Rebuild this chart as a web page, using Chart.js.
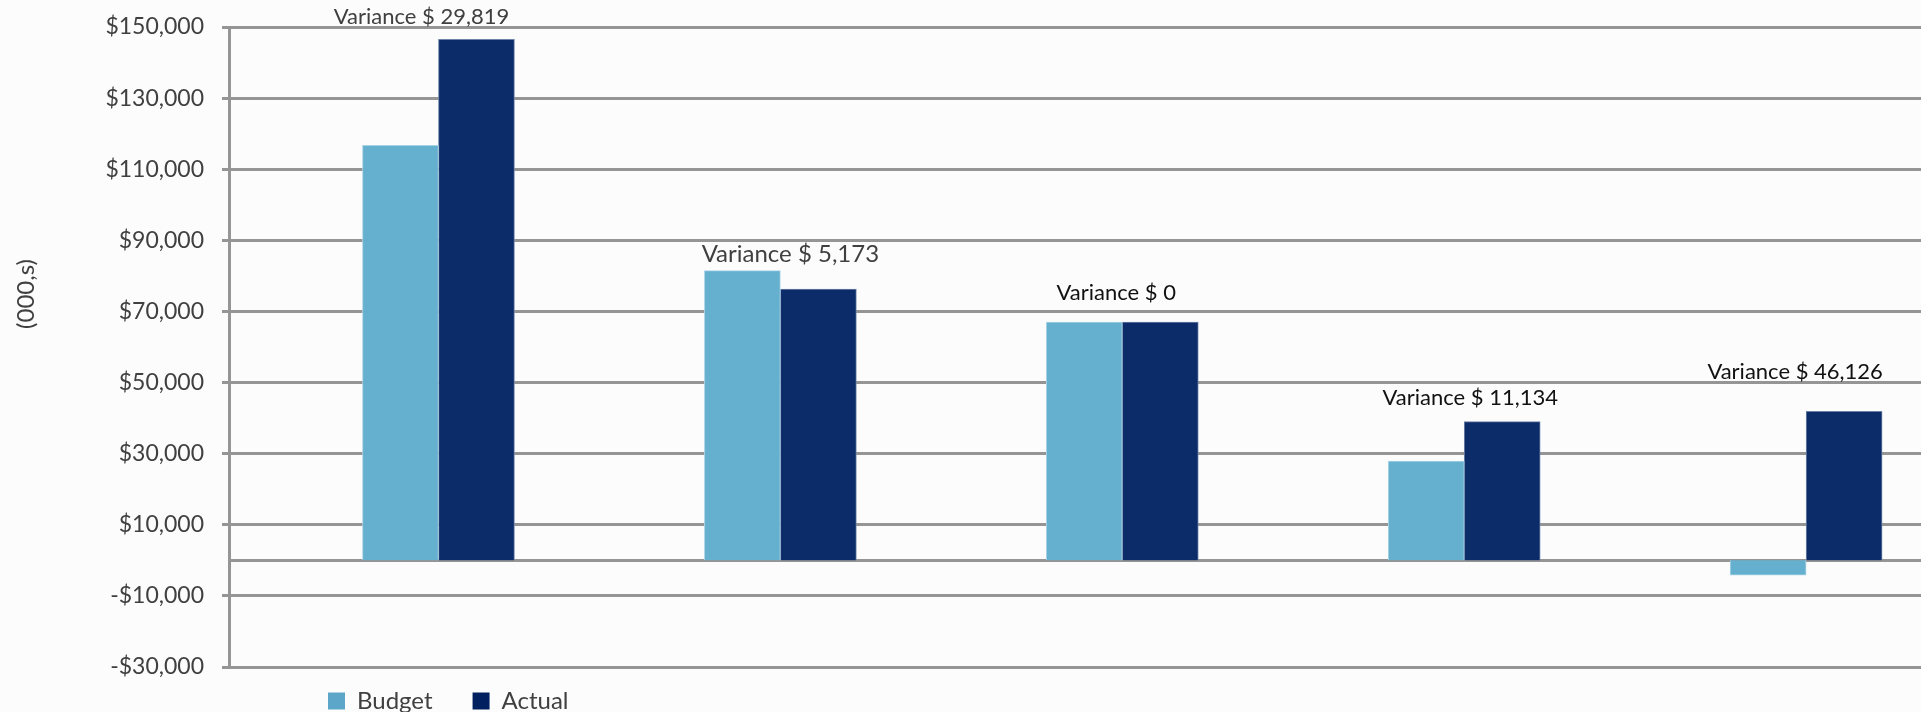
<!DOCTYPE html>
<html>
<head>
<meta charset="utf-8">
<style>html,body{margin:0;padding:0;background:#fcfcfc;overflow:hidden}canvas{display:block}</style>
<script src="https://cdn.jsdelivr.net/npm/chart.js@4"></script>
</head>
<body>
<canvas id="c" width="1921" height="712"></canvas>
<script>
const categories = [0, 1, 2, 3, 4];
const budget = [116700, 81500, 67000, 27900, -4200];
const actual = [146500, 76300, 67000, 39000, 41900];
const varianceLabels = ['Variance $ 29,819', 'Variance $ 5,173', 'Variance $ 0', 'Variance $ 11,134', 'Variance $ 46,126'];
const labelColors = ['#404040', '#404040', '#111111', '#111111', '#111111'];
const labelSizes = [22, 24, 22, 22, 22];
const labelShiftX = [-17, 10, -6, 6, -11];
const labelShiftY = [23, 16, 29, 24, 39];
const FONT = 'Lato, "Open Sans", sans-serif';
const GRID = '#959595';

const annotate = {
  id: 'annotate',
  afterLayout(chart) { chart.legend.left = 288; chart.legend.right = 800; chart.legend.top = 649; },
  afterDatasetsDraw(chart) {
    const { ctx, scales: { x, y } } = chart;
    ctx.save();
    ctx.textAlign = 'center';
    ctx.textBaseline = 'middle';
    varianceLabels.forEach((t, i) => {
      const top = Math.max(budget[i], actual[i]);
      ctx.font = labelSizes[i] + 'px ' + FONT;
      ctx.fillStyle = labelColors[i];
      ctx.fillText(t, x.getPixelForValue(categories[i]) + labelShiftX[i], y.getPixelForValue(top) - labelShiftY[i]);
    });
    ctx.restore();
    ctx.save();
    ctx.font = '24px ' + FONT;
    ctx.fillStyle = '#404040';
    ctx.textAlign = 'center';
    ctx.textBaseline = 'middle';
    ctx.translate(26, 294);
    ctx.rotate(-Math.PI / 2);
    ctx.fillText('(000,s)', 0, 0);
    ctx.restore();
  }
};

new Chart(document.getElementById('c'), {
  type: 'bar',
  data: {
    datasets: [
      { label: 'Budget', data: categories.map((c, i) => ({ x: c, y: budget[i] })), backgroundColor: '#65AFCF', borderColor: '#A9D3E6', borderWidth: 1 },
      { label: 'Actual', data: categories.map((c, i) => ({ x: c, y: actual[i] })), backgroundColor: '#0B2B69', borderColor: '#6E82A8', borderWidth: 1 }
    ]
  },
  options: {
    responsive: false,
    animation: false,
    layout: { padding: { top: 27, bottom: -29, left: 0, right: 0 } },
    datasets: { bar: { barThickness: 76, grouped: true } },
    plugins: {
      tooltip: { enabled: false },
      title: { display: false },
      legend: {
        display: true,
        position: 'bottom',
        align: 'start',
        labels: {
          boxWidth: 17, boxHeight: 17, padding: 40, color: '#404040',
          font: { family: FONT, size: 24 },
          generateLabels(chart) {
            return chart.data.datasets.map((d, i) => ({
              text: d.label, datasetIndex: i, fontColor: '#404040',
              fillStyle: i ? '#00205F' : '#5BA6C9', strokeStyle: 'transparent', lineWidth: 0
            }));
          }
        }
      }
    },
    scales: {
      x: {
        type: 'linear',
        position: { y: 0 },
        offset: false,
        min: -0.6126,
        max: 4.336,
        afterFit(s) { s.paddingTop = 0; s.paddingBottom = 0; s.paddingLeft = 0; s.paddingRight = 0; },
        grid: { display: false },
        ticks: { display: false },
        border: { display: true, color: GRID, width: 3 }
      },
      y: {
        type: 'linear',
        min: -30000,
        max: 150000,
        afterFit(s) { s.width = 229; s.paddingTop = 0; s.paddingBottom = 0; },
        grid: { color: GRID, lineWidth: 3, tickLength: 7, drawTicks: true },
        border: { display: true, color: GRID, width: 3 },
        ticks: {
          stepSize: 20000,
          padding: 18,
          color: '#404040',
          font: { family: FONT, size: 23 },
          callback: v => (v < 0 ? '-$' : '$') + Math.abs(v).toLocaleString('en-US')
        }
      }
    }
  },
  plugins: [annotate]
});
</script>
</body>
</html>
